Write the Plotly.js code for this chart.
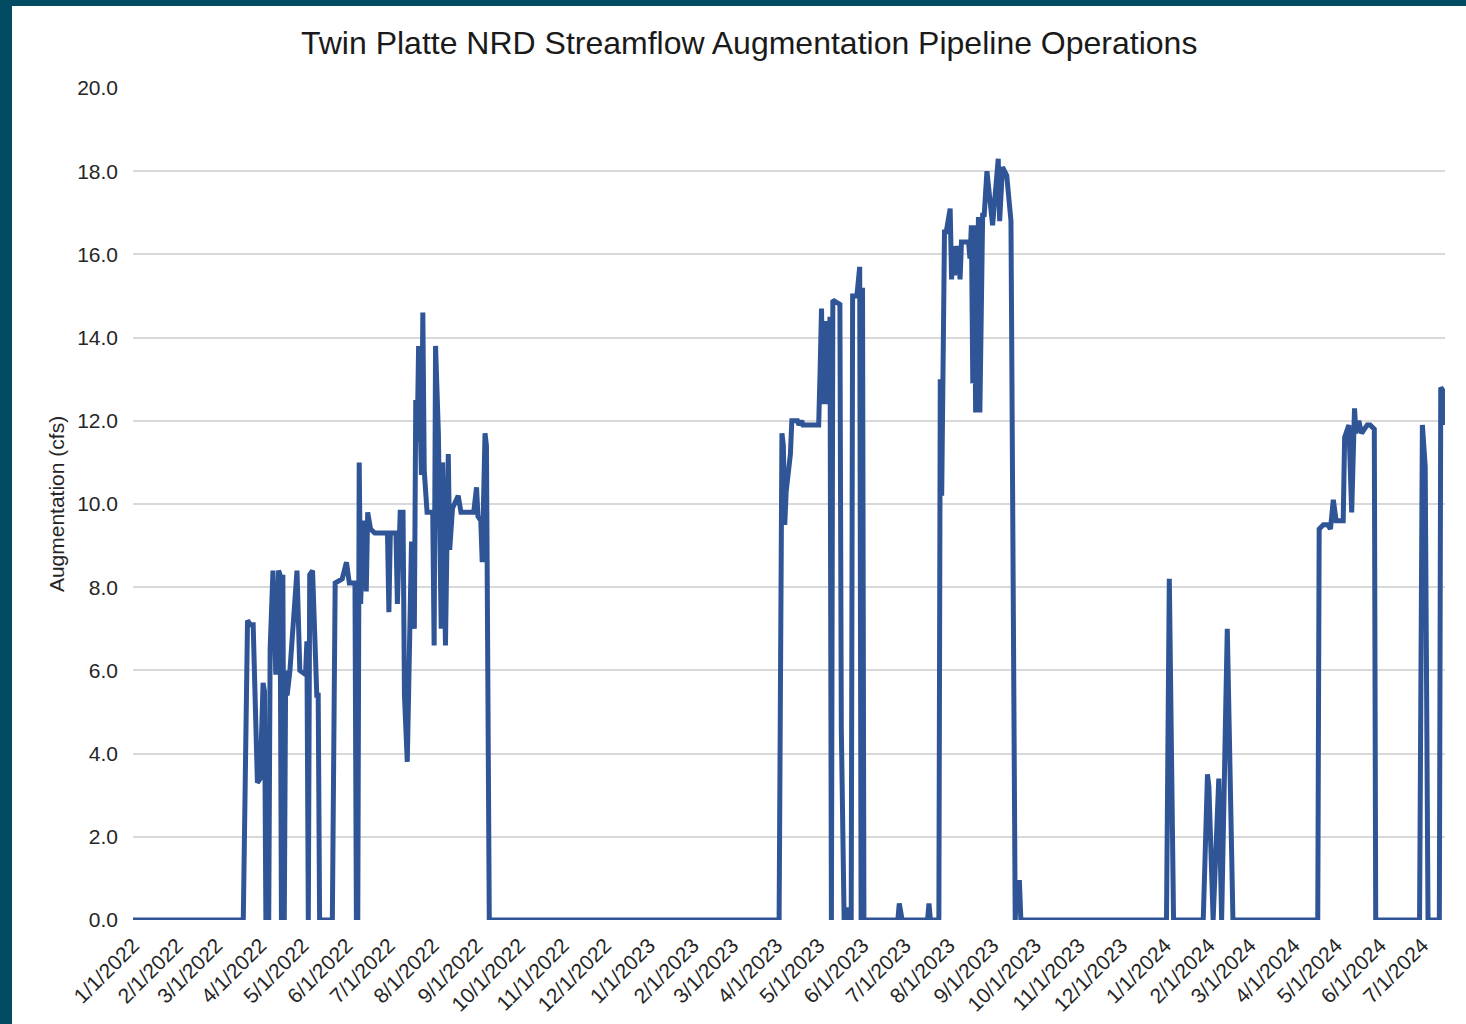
<!DOCTYPE html>
<html>
<head>
<meta charset="utf-8">
<script src="https://cdn.plot.ly/plotly-3.0.1.min.js"></script>
<style>
  html, body { margin: 0; padding: 0; width: 1466px; height: 1024px; overflow: hidden; background: #034a63; }
  #chart { position: absolute; left: 12px; top: 6px; width: 1454px; height: 1018px; background: #ffffff; }
</style>
</head>
<body>
<div id="chart"></div>
<script>
// ---- Data ----
const chartTitle = "Twin Platte NRD Streamflow Augmentation Pipeline Operations";
const yAxisTitle = "Augmentation (cfs)";

const dates2022 = ["2022-01-01","2022-03-20","2022-03-23","2022-03-25","2022-03-27","2022-03-30","2022-04-01","2022-04-03","2022-04-04","2022-04-05","2022-04-06","2022-04-07","2022-04-08","2022-04-10","2022-04-12","2022-04-14","2022-04-15","2022-04-16","2022-04-17","2022-04-18","2022-04-19","2022-04-20","2022-04-22","2022-04-27","2022-04-29","2022-05-03","2022-05-04","2022-05-05","2022-05-06","2022-05-08","2022-05-11","2022-05-12","2022-05-13","2022-05-22","2022-05-24","2022-05-29","2022-06-01","2022-06-03","2022-06-07","2022-06-08","2022-06-09","2022-06-10","2022-06-11","2022-06-13","2022-06-15","2022-06-16","2022-06-18","2022-06-21","2022-06-30","2022-07-01","2022-07-02","2022-07-06","2022-07-07","2022-07-09","2022-07-11","2022-07-12","2022-07-14","2022-07-17","2022-07-19","2022-07-20","2022-07-21","2022-07-22","2022-07-24","2022-07-25","2022-07-26","2022-07-28","2022-08-01","2022-08-02","2022-08-03","2022-08-05","2022-08-07","2022-08-08","2022-08-10","2022-08-12","2022-08-13","2022-08-15","2022-08-19","2022-08-21","2022-08-30","2022-09-01","2022-09-02","2022-09-04","2022-09-05","2022-09-07","2022-09-08","2022-09-10"];
const cfs2022 = [0,0,7.2,7.1,7.1,3.3,3.4,5.7,5.5,0,3.0,0,6.5,8.4,5.9,8.4,8.3,0,8.3,0,6.0,5.4,6.0,8.4,6.0,5.9,6.7,0,8.3,8.4,5.4,5.4,0,0,8.1,8.2,8.6,8.1,8.1,0,0,11.0,7.6,9.6,7.9,9.8,9.4,9.3,9.3,7.4,9.3,9.3,7.6,9.8,9.8,5.4,3.8,9.1,7.0,12.5,11.5,13.8,10.7,14.6,10.8,9.8,9.8,6.6,13.8,11.7,7.0,11.0,6.6,11.2,8.9,9.9,10.2,9.8,9.8,10.4,9.7,9.6,8.6,11.7,11.4,0];

const dates2023 = ["2023-04-03","2023-04-05","2023-04-06","2023-04-07","2023-04-08","2023-04-11","2023-04-12","2023-04-16","2023-04-17","2023-04-19","2023-04-20","2023-05-01","2023-05-02","2023-05-03","2023-05-04","2023-05-06","2023-05-07","2023-05-09","2023-05-10","2023-05-11","2023-05-16","2023-05-17","2023-05-19","2023-05-21","2023-05-22","2023-05-24","2023-05-25","2023-05-28","2023-05-30","2023-05-31","2023-06-01","2023-06-02","2023-06-26","2023-06-27","2023-06-29","2023-07-17","2023-07-18","2023-07-19","2023-07-25","2023-07-26","2023-07-27","2023-07-29","2023-07-30","2023-08-02","2023-08-03","2023-08-04","2023-08-05","2023-08-07","2023-08-09","2023-08-10","2023-08-15","2023-08-16","2023-08-17","2023-08-18","2023-08-19","2023-08-20","2023-08-22","2023-08-23","2023-08-25","2023-08-26","2023-08-28","2023-09-01","2023-09-05","2023-09-06","2023-09-08","2023-09-11","2023-09-14","2023-09-17","2023-09-18","2023-09-20","2023-09-21"];
const cfs2023 = [0,11.7,11.4,9.5,10.3,11.2,12.0,12.0,11.9,12.0,11.9,11.9,13.2,14.7,12.4,14.4,12.4,14.5,0,14.9,14.8,4.6,0,0.3,0,0,15.0,15.0,15.7,0,15.2,0,0,0.4,0,0,0.4,0,0,13.0,10.2,16.6,16.5,17.1,15.4,16.2,15.5,16.2,15.4,16.3,16.3,15.9,16.7,12.9,16.7,12.2,16.9,12.2,17.0,16.9,18.0,16.7,18.3,16.8,18.1,17.9,16.8,0,0.9,0.9,0];

const dates2024 = ["2024-01-02","2024-01-04","2024-01-07","2024-01-28","2024-01-31","2024-02-01","2024-02-04","2024-02-08","2024-02-10","2024-02-14","2024-02-18","2024-04-18","2024-04-19","2024-04-22","2024-04-25","2024-04-27","2024-04-29","2024-05-01","2024-05-06","2024-05-07","2024-05-10","2024-05-12","2024-05-14","2024-05-15","2024-05-17","2024-05-19","2024-05-23","2024-05-25","2024-05-28","2024-05-29","2024-06-29","2024-07-01","2024-07-03","2024-07-05","2024-07-13","2024-07-14","2024-07-16","2024-07-17"];
const cfs2024 = [0,8.2,0,0,3.5,3.2,0,3.4,0,7.0,0,0,9.4,9.5,9.5,9.4,10.1,9.6,9.6,11.6,11.9,9.8,12.3,11.7,12.0,11.7,11.9,11.9,11.8,0,0,11.9,10.9,0,0,12.8,12.7,11.9];

const xRange = ["2022-01-01", "2024-07-17"];
const yRange = [0, 20];

const dates = dates2022.concat(dates2023, dates2024);
const augmentation = cfs2022.concat(cfs2023, cfs2024);

const trace = {
  x: dates,
  y: augmentation,
  type: "scatter",
  mode: "lines",
  line: { color: "#2f5597", width: 5, shape: "linear" },
  hoverinfo: "x+y"
};

const layout = {
  width: 1454,
  height: 1018,
  paper_bgcolor: "#ffffff",
  plot_bgcolor: "#ffffff",
  margin: { l: 121, r: 21, t: 82, b: 104, pad: 0 },
  showlegend: false,
  font: { family: "Liberation Sans, Arial, sans-serif", color: "#262626", size: 21 },
  title: {
    text: chartTitle,
    font: { family: "Liberation Sans, Arial, sans-serif", size: 32, color: "#1a1a1a" },
    x: 0.507, xanchor: "center",
    y: 1 - 37 / 1018, yanchor: "middle"
  },
  xaxis: {
    type: "date",
    range: xRange,
    tick0: "2022-01-01",
    dtick: "M1",
    tickformat: "%-m/%-d/%Y",
    tickangle: -45,
    showgrid: false,
    zeroline: false,
    showline: false,
    ticks: "",
    ticklabelstandoff: 8,
    tickfont: { size: 21, color: "#262626" },
    fixedrange: true
  },
  yaxis: {
    range: yRange,
    dtick: 2,
    tick0: 0,
    tickformat: ".1f",
    showgrid: true,
    gridcolor: "#d9d9d9",
    gridwidth: 2,
    zeroline: false,
    showline: false,
    ticks: "",
    ticklabelstandoff: 14,
    tickfont: { size: 21, color: "#262626" },
    title: {
      text: yAxisTitle,
      font: { size: 21, color: "#262626" },
      standoff: 6
    },
    fixedrange: true
  }
};

Plotly.newPlot("chart", [trace], layout, { displayModeBar: false, staticPlot: true });
</script>
</body>
</html>
